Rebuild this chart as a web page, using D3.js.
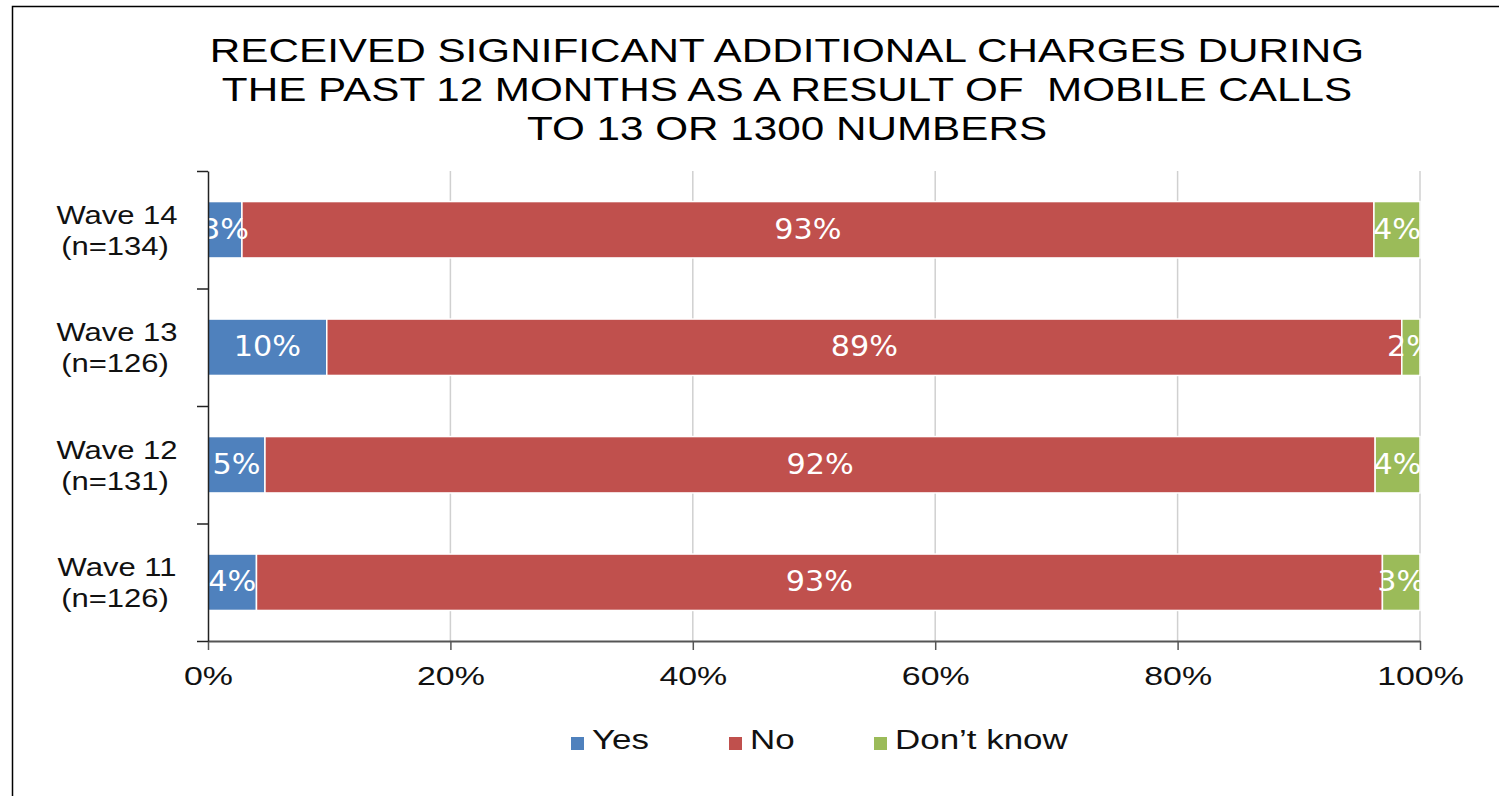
<!DOCTYPE html>
<html>
<head>
<meta charset="utf-8">
<script src="https://cdn.jsdelivr.net/npm/d3@7"></script>
<style>
  body { margin: 0; background: #fff; }
  svg { display: block; }
  text { font-family: "Liberation Sans", Arial, sans-serif; }
</style>
</head>
<body>
<svg width="1499" height="796"></svg>
<script>
// chart data
var categories = ["Wave 14", "Wave 13", "Wave 12", "Wave 11"];
var sampleSizes = ["(n=134)", "(n=126)", "(n=131)", "(n=126)"];
var seriesNames = ["Yes", "No", "Don\u2019t know"];
var yesValues = [2.8, 9.8, 4.7, 4.0];
var noValues = [93.4, 88.7, 91.6, 92.9];
var dontKnowValues = [3.8, 1.5, 3.7, 3.1];
var xTicks = [0, 20, 40, 60, 80, 100];
var titleLines = [
    "RECEIVED SIGNIFICANT ADDITIONAL CHARGES DURING",
    "THE PAST 12 MONTHS AS A RESULT OF  MOBILE CALLS",
    "TO 13 OR 1300 NUMBERS"
];

var colors = ["#4f81bd", "#c0504d", "#9bbb59"];

var svg = d3.select("svg"),
    margin = { top: 171, right: 79, bottom: 155, left: 208 },
    width = +svg.attr("width") - margin.left - margin.right,
    height = +svg.attr("height") - margin.top - margin.bottom;

// frame round the chart
svg.append("rect")
    .attr("x", 12.5).attr("y", 6.5)
    .attr("width", 1600).attr("height", 900)
    .attr("fill", "none").attr("stroke", "#000").attr("stroke-width", 1.5);

// titel
svg.append("g").selectAll("text")
    .data(titleLines)
    .enter().append("text")
    .attr("transform", function (d, i) { return "translate(787," + (62 + i * 39) + ") scale(1.28,1)"; })
    .attr("text-anchor", "middle")
    .style("white-space", "pre")
    .style("font-size", "33px")
    .attr("fill", "#000")
    .text(function (d) { return d; });

var x = d3.scaleLinear().domain([0, 100]).range([0, width]);
var y = d3.scaleBand().domain(categories).range([0, height]).paddingInner(0.52).paddingOuter(0.26);
var yEdges = d3.scaleLinear().domain([0, categories.length]).range([0, height]);

var groep = svg.append("g")
    .attr("transform", "translate(" + margin.left + "," + margin.top + ")");

// gridlijnen
groep.append("g").selectAll("line")
    .data(xTicks.slice(1))
    .enter().append("line")
    .attr("x1", function (d) { return x(d); })
    .attr("x2", function (d) { return x(d); })
    .attr("y1", 0).attr("y2", height)
    .attr("stroke", "#d0d0d0").attr("stroke-width", 1.5);

// stacked data
var rows = categories.map(function (c, i) {
    return { cat: c, n: sampleSizes[i], vals: [yesValues[i], noValues[i], dontKnowValues[i]] };
});
var segments = [];
rows.forEach(function (r) {
    var start = 0;
    r.vals.forEach(function (v, k) {
        segments.push({ cat: r.cat, k: k, x0: start, x1: start + v, v: v });
        start += v;
    });
});

groep.append("clipPath").attr("id", "plotClip")
    .append("rect").attr("x", 0).attr("y", 0).attr("width", x(100)).attr("height", height);

groep.append("g").selectAll("rect")
    .data(segments)
    .enter().append("rect")
    .attr("x", function (d) { return x(d.x0); })
    .attr("y", function (d) { return y(d.cat); })
    .attr("width", function (d) { return x(d.x1) - x(d.x0); })
    .attr("height", y.bandwidth())
    .attr("fill", function (d) { return colors[d.k]; })
    .attr("stroke", "#fff").attr("stroke-width", 1.5);

// waarde labels in de balken
groep.append("g").attr("clip-path", "url(#plotClip)")
    .selectAll("text")
    .data(segments)
    .enter().append("text")
    .attr("transform", function (d) {
        return "translate(" + x((d.x0 + d.x1) / 2) + "," + (y(d.cat) + y.bandwidth() / 2 + 9) + ") scale(1.08,1)";
    })
    .attr("text-anchor", "middle")
    .style("font-family", "'DejaVu Sans', Verdana, sans-serif")
    .style("font-size", "28px")
    .attr("fill", "#fff")
    .text(function (d) { return Math.round(d.v) + "%"; });

// x as
var xAxis = groep.append("g")
    .attr("transform", "translate(0," + height + ")")
    .call(d3.axisBottom(x).tickValues(xTicks).tickSize(9).tickSizeOuter(0).tickPadding(16)
        .tickFormat(function (d) { return d + "%"; }));
xAxis.select(".domain").attr("stroke", "#555").attr("stroke-width", 2);
xAxis.selectAll(".tick line").attr("stroke", "#555").attr("stroke-width", 1.5);
xAxis.selectAll(".tick text")
    .attr("transform", "scale(1.28,1)")
    .style("font-family", "'Liberation Sans', Arial, sans-serif")
    .style("font-size", "26.5px")
    .attr("fill", "#111");

// y as met ticks op de grenzen van de banden
var yAxis = groep.append("g")
    .call(d3.axisLeft(yEdges).ticks(categories.length).tickSize(11).tickSizeOuter(0).tickFormat(""));
yAxis.select(".domain").attr("stroke", "#222").attr("stroke-width", 1.5);
yAxis.selectAll(".tick line").attr("stroke", "#222").attr("stroke-width", 1.5);

var yLabels = groep.append("g").selectAll("g")
    .data(rows)
    .enter().append("g")
    .attr("transform", function (d) { return "translate(-91," + (y(d.cat) + y.bandwidth() / 2) + ")"; });
yLabels.append("text")
    .attr("transform", "translate(0,-6) scale(1.17,1)")
    .attr("text-anchor", "middle")
    .style("font-size", "26.5px").attr("fill", "#111")
    .text(function (d) { return d.cat; });
yLabels.append("text")
    .attr("transform", "translate(-2,25) scale(1.17,1)")
    .attr("text-anchor", "middle")
    .style("font-size", "26.5px").attr("fill", "#111")
    .text(function (d) { return d.n; });

// legenda
var legendX = [571, 729, 874];
var legend = svg.append("g").selectAll("g")
    .data(seriesNames)
    .enter().append("g")
    .attr("transform", function (d, i) { return "translate(" + legendX[i] + ",737)"; });
legend.append("rect")
    .attr("width", 13).attr("height", 13)
    .attr("fill", function (d, i) { return colors[i]; });
legend.append("text")
    .attr("transform", "translate(21,12) scale(1.27,1)")
    .style("font-size", "27.5px").attr("fill", "#111")
    .text(function (d) { return d; });
</script>
</body>
</html>
